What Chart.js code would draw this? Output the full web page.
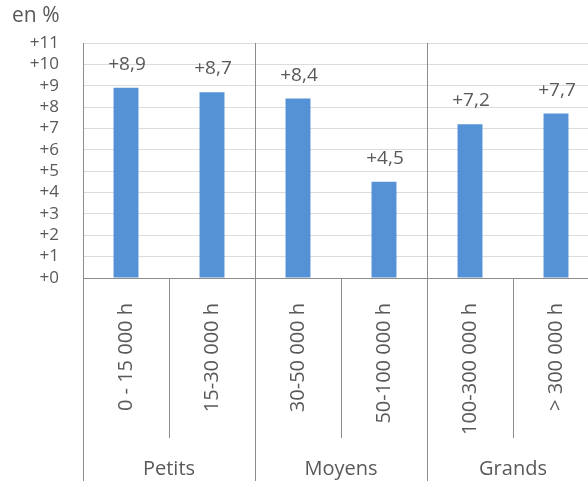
<!DOCTYPE html>
<html>
<head>
<meta charset="utf-8">
<script src="https://cdn.jsdelivr.net/npm/chart.js@4/dist/chart.umd.min.js"></script>
<style>
  body { margin: 0; background: #fff; overflow: hidden; }
  #wrap { position: relative; width: 610px; height: 481px; }
</style>
</head>
<body>
<div id="wrap"><canvas id="myChart" width="610" height="481"></canvas></div>
<script>
// data
const categories = ['0 - 15 000 h', '15-30 000 h', '30-50 000 h', '50-100 000 h', '100-300 000 h', '> 300 000 h'];
const values = [8.9, 8.7, 8.4, 4.5, 7.2, 7.7];
const groups = ['Petits', 'Moyens', 'Grands'];
const groupSizes = [2, 2, 2];
const yTicks = [0, 1, 2, 3, 4, 5, 6, 7, 8, 9, 10, 11];
const unitLabel = 'en %';

const textColor = '#595959';
const lineColor = '#8c8c8c';
const fontName = '"Open Sans", sans-serif';

function fmt(v) {
    return '+' + v.toFixed(1).replace('.', ',');
}

// value labels above bars
const valueLabels = {
    id: 'valueLabels',
    afterDatasetsDraw(chart) {
        const ctx = chart.ctx;
        const meta = chart.getDatasetMeta(0);
        ctx.save();
        ctx.fillStyle = textColor;
        ctx.font = '19px ' + fontName;
        ctx.textAlign = 'center';
        ctx.textBaseline = 'alphabetic';
        meta.data.forEach((bar, i) => {
            ctx.fillText(fmt(values[i]), bar.x + 1, bar.y - 18);
        });
        ctx.restore();
    }
};

// category ticks, group dividers, group names and unit
const groupAxis = {
    id: 'groupAxis',
    afterDraw(chart) {
        const ctx = chart.ctx;
        const xs = chart.scales.x;
        const area = chart.chartArea;
        const h = chart.height;
        const edge = i => {
            if (i === 0) return xs.getPixelForValue(0) - (xs.getPixelForValue(1) - xs.getPixelForValue(0)) / 2;
            if (i === categories.length) return xs.getPixelForValue(i - 1) + (xs.getPixelForValue(1) - xs.getPixelForValue(0)) / 2;
            return (xs.getPixelForValue(i - 1) + xs.getPixelForValue(i)) / 2;
        };
        ctx.save();
        ctx.strokeStyle = lineColor;
        ctx.lineWidth = 1;
        let start = 0;
        const groupStarts = [];
        groupSizes.forEach(n => { groupStarts.push(start); start += n; });
        // ticks between categories
        for (let i = 1; i < categories.length; i++) {
            if (groupStarts.includes(i)) continue;
            const x = Math.round(edge(i)) + 0.5;
            ctx.beginPath();
            ctx.moveTo(x, area.bottom);
            ctx.lineTo(x, area.bottom + 160);
            ctx.stroke();
        }
        // group dividers
        groupStarts.forEach(i => {
            const x = Math.round(edge(i)) + 0.5;
            ctx.beginPath();
            ctx.moveTo(x, i === 0 ? area.bottom : area.top);
            ctx.lineTo(x, h);
            ctx.stroke();
        });
        // group names
        ctx.fillStyle = textColor;
        ctx.font = '20px ' + fontName;
        ctx.textAlign = 'center';
        ctx.textBaseline = 'middle';
        groups.forEach((g, k) => {
            const a = edge(groupStarts[k]);
            const b = edge(groupStarts[k] + groupSizes[k]);
            ctx.fillText(g, (a + b) / 2, 469);
        });
        // unit
        ctx.textAlign = 'left';
        ctx.font = '21px ' + fontName;
        ctx.fillText(unitLabel, 12, 16);
        ctx.restore();
    }
};

const ctx = document.getElementById('myChart').getContext('2d');
const myChart = new Chart(ctx, {
    type: 'bar',
    data: {
        labels: categories,
        datasets: [{
            data: values,
            backgroundColor: '#5592d5',
            barPercentage: 0.29,
            categoryPercentage: 1
        }]
    },
    options: {
        responsive: false,
        animation: false,
        layout: { padding: { top: 43, right: 11, left: 0, bottom: 0 } },
        plugins: { legend: { display: false }, tooltip: { enabled: false } },
        scales: {
            x: {
                grid: { display: false },
                border: { display: true, color: lineColor },
                ticks: {
                    autoSkip: false,
                    maxRotation: 90,
                    minRotation: 90,
                    padding: 17,
                    color: textColor,
                    font: { family: fontName, size: 20 }
                },
                afterFit(scale) { scale.height = 203; }
            },
            y: {
                min: yTicks[0],
                max: yTicks[yTicks.length - 1],
                grid: { color: '#dcdcdc', drawTicks: false },
                border: { display: true, color: lineColor },
                ticks: {
                    autoSkip: false,
                    stepSize: 1,
                    padding: 24,
                    color: textColor,
                    font: { family: fontName, size: 17 },
                    callback: v => '+' + v
                },
                afterFit(scale) { scale.width = 83; }
            }
        }
    },
    plugins: [valueLabels, groupAxis]
});
</script>
</body>
</html>
